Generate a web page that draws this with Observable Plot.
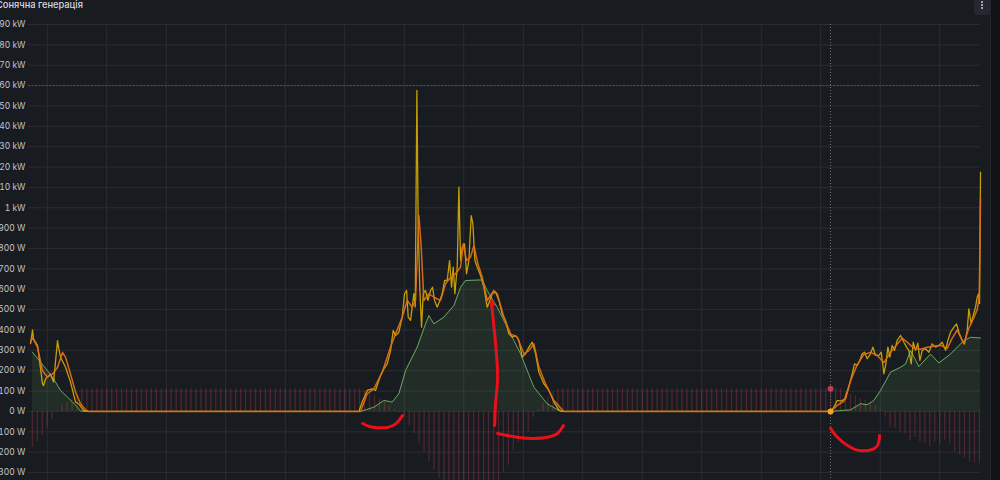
<!DOCTYPE html>
<html><head><meta charset="utf-8">
<script src="https://cdn.jsdelivr.net/npm/d3@7"></script>
<script src="https://cdn.jsdelivr.net/npm/@observablehq/plot@0.6"></script>
<style>
html,body{margin:0;padding:0;background:#181b1f;overflow:hidden}
#wrap{position:relative;width:1000px;height:480px;overflow:hidden;background:#181b1f}
#wrap svg{display:block}
#title{position:absolute;left:-4px;top:-0.5px;font:500 9.3px/9px Inter,sans-serif;color:#d8d9e3;white-space:nowrap}
#strip{position:absolute;left:990px;top:0;width:10px;height:480px;background:#111217;border-left:1px solid #25272d}
#menu{position:absolute;left:974px;top:0;width:16px;height:15px;background:#25282e;border-radius:0 0 2px 2px}
#menu i{position:absolute;left:7px;width:2px;height:2px;background:#c8c9d2;border-radius:1px}
</style>
</head><body>
<div id="wrap">
  <div id="chart"></div>
  <div id="strip"></div>
  <div id="menu"><i style="top:1px"></i><i style="top:4px"></i><i style="top:7px"></i></div>
  <div id="title">Сонячна генерація</div>
</div>
<script>
// Y axis ticks and their labels (W)
const yTicks = [-300,-200,-100,0,100,200,300,400,500,600,700,800,900,1000,1100,1200,1300,1400,1500,1600,1700,1800,1900];
const yTickLabels = ["-300 W","-200 W","-100 W","0 W","100 W","200 W","300 W","400 W","500 W","600 W","700 W","800 W","900 W","1 kW","1.10 kW","1.20 kW","1.30 kW","1.40 kW","1.50 kW","1.60 kW","1.70 kW","1.80 kW","1.90 kW"];
// X grid (hours)
const xTicks = [0,2,4,6,8,10,12,14,16,18,20,22,24,26,28,30];
const threshold = 1600;
const cursorHour = 26.33;

// Raw solar power (yellow), [hour, W]
const yellow = [
  [-0.561,333],[-0.494,400],[-0.461,357],[-0.326,323],[-0.158,135],[-0.124,127],[-0.057,160],[0.111,184],[0.212,144],[0.346,348],[0.380,315],[0.447,266],[0.615,217],[0.783,144],[0.951,46],[1.052,38],[1.220,5],[1.355,0],
  [10.475,0],[10.587,46],[10.755,103],[10.923,111],[11.035,103],[11.203,177],[11.316,209],[11.428,234],[11.540,299],[11.629,398],[11.708,373],[11.820,389],[11.932,463],[12.010,578],[12.078,594],[12.134,463],[12.212,447],[12.268,512],[12.324,578],[12.369,512],[12.425,1576],[12.470,905],[12.526,594],[12.582,414],[12.638,578],[12.716,594],[12.795,545],[12.884,594],[12.951,610],[13.019,545],[13.108,512],[13.198,545],[13.276,578],[13.355,643],[13.444,643],[13.523,741],[13.590,610],[13.646,709],[13.702,578],[13.781,709],[13.837,1101],[13.893,741],[13.949,807],[14.027,823],[14.094,676],[14.173,741],[14.251,962],[14.307,921],[14.374,741],[14.453,709],[14.565,668],[14.677,610],[14.789,512],[14.879,545],[14.957,578],[15.069,586],[15.181,545],[15.293,479],[15.405,447],[15.517,381],[15.629,365],[15.741,373],[15.853,349],[15.966,267],[16.078,283],[16.190,316],[16.302,340],[16.414,283],[16.526,193],[16.694,136],[16.862,103],[17.030,46],[17.198,8],[17.310,0],
  [26.329,0],[26.441,21],[26.553,54],[26.666,51],[26.834,62],[26.946,120],[27.058,185],[27.136,234],[27.226,226],[27.315,250],[27.394,283],[27.472,291],[27.562,259],[27.674,283],[27.752,316],[27.842,275],[27.954,275],[28.033,291],[28.122,185],[28.189,234],[28.257,316],[28.324,267],[28.402,324],[28.481,300],[28.570,349],[28.682,373],[28.794,340],[28.884,316],[28.962,300],[29.041,234],[29.108,340],[29.187,300],[29.265,335],[29.332,250],[29.411,300],[29.523,308],[29.635,291],[29.747,332],[29.859,316],[29.971,324],[30.083,340],[30.195,300],[30.274,349],[30.363,389],[30.475,414],[30.565,430],[30.643,389],[30.755,349],[30.834,332],[30.923,398],[30.979,504],[31.058,430],[31.125,471],[31.203,512],[31.259,561],[31.304,578],[31.338,529],[31.371,1175]
];

// Smoothed power (orange), [hour, W]
const orange = [
  [-0.561,340],[-0.494,364],[-0.326,315],[-0.158,200],[0.010,168],[0.178,184],[0.346,217],[0.514,290],[0.615,266],[0.783,184],[0.951,95],[1.119,38],[1.287,8],[1.388,0],
  [10.531,0],[10.755,87],[10.979,111],[11.260,193],[11.540,316],[11.708,381],[11.932,463],[12.100,545],[12.268,512],[12.380,545],[12.492,962],[12.571,807],[12.660,545],[12.828,578],[12.996,561],[13.220,545],[13.388,627],[13.557,659],[13.725,676],[13.893,709],[13.982,823],[14.094,741],[14.229,758],[14.341,815],[14.475,725],[14.621,659],[14.789,545],[15.013,594],[15.125,578],[15.349,463],[15.573,381],[15.797,365],[16.022,283],[16.190,299],[16.358,332],[16.526,218],[16.750,136],[17.030,54],[17.366,0],
  [26.329,0],[26.553,30],[26.778,50],[27.002,150],[27.226,230],[27.450,280],[27.674,290],[27.898,275],[28.122,240],[28.346,290],[28.570,330],[28.738,360],[28.906,340],[29.131,310],[29.355,305],[29.579,315],[29.803,320],[30.027,325],[30.251,310],[30.419,360],[30.587,400],[30.811,332],[30.979,410],[31.147,460],[31.259,500],[31.326,560],[31.371,1046]
];

// Average profile (green area), [hour, W]
const green = [
  [-0.494,291],[-0.225,242],[0.010,200],[0.212,160],[0.447,103],[0.682,70],[0.850,46],[1.018,21],[1.119,2],[1.220,0],
  [10.531,0],[10.979,21],[11.316,54],[11.596,46],[11.820,87],[12.044,201],[12.436,316],[12.716,430],[12.828,471],[12.996,430],[13.332,463],[13.669,520],[13.893,610],[14.061,643],[14.621,646],[14.789,594],[15.125,512],[15.461,414],[15.910,283],[16.358,119],[16.806,38],[17.254,0],
  [26.329,0],[27.002,8],[27.338,38],[27.562,33],[27.786,54],[28.010,103],[28.346,193],[28.682,217],[28.850,233],[29.018,299],[29.299,221],[29.691,282],[29.971,238],[30.363,282],[30.811,348],[31.035,364],[31.371,361]
];

// Grid exchange bars (red), one every 10 minutes starting at -0.5 h (rows of 10)
const barStart = -0.5, barStepHours = 1/6;
const barValues = [
  -176,-147,-118,-83,-39,5,30,45,60,75,
  112,112,112,112,112,112,112,112,112,112,
  112,112,112,112,112,112,112,112,112,112,
  112,112,112,112,112,112,112,112,112,112,
  112,112,112,112,112,112,112,112,112,112,
  112,112,112,112,112,112,112,112,112,112,
  112,112,112,112,112,112,112,100,88,80,
  62,45,25,10,-5,-30,-70,-110,-160,-200,
  -250,-290,-330,-360,-380,-390,-400,-395,-390,-385,
  -380,-370,-360,-350,-345,-300,-265,-190,-155,-130,
  -100,-30,10,40,70,95,112,112,112,112,
  112,112,112,112,112,112,112,112,112,112,
  112,112,112,112,112,112,112,112,112,112,
  112,112,112,112,112,112,112,112,112,112,
  112,112,112,112,112,112,112,112,112,112,
  112,112,112,112,112,112,112,112,112,112,
  112,112,112,112,95,85,75,65,55,40,
  30,10,-29,-78,-83,-101,-110,-142,-125,-150,
  -158,-174,-150,-158,-140,-160,-200,-215,-230,-250,
  -255,-255
];
const bars = barValues.map((v, i) => ({h: barStart + i * barStepHours, v}));

// Hover markers at cursor
const hoverDots = [{h: 26.33, v: 112, c: "#E8475F", o: 0.75, r: 4}, {h: 26.33, v: 0, c: "#F5A21B", o: 1, r: 4}];

// Hand-drawn red annotation strokes, [hour, W]
const annot1 = [[10.60,-59],[10.85,-75],[11.10,-80],[11.45,-78],[11.70,-62],[11.94,-20]];
const annot2 = [[15.00,525],[14.93,545],[14.97,481],[15.07,334],[15.14,167],[15.07,39],[15.04,-69]];
const annot3 = [[15.14,-108],[15.60,-122],[16.14,-132],[16.81,-127],[17.15,-108],[17.35,-69]];
const annot4 = [[26.33,-83],[26.56,-127],[26.90,-167],[27.27,-191],[27.74,-186],[27.91,-167],[27.98,-118]];

const labelOf = new Map(yTicks.map((t, i) => [t, yTickLabels[i]]));
const pts = arr => arr.map(([h, v]) => ({h, v}));

const chart = Plot.plot({
  width: 1000, height: 480,
  marginLeft: 28, marginRight: 20, marginTop: 24, marginBottom: 0,
  style: {background: "#181b1f", color: "#c3c4ce", fontFamily: "Inter, sans-serif", fontSize: "8.5px", overflow: "hidden"},
  x: {domain: [-0.63, 31.37], axis: null},
  y: {domain: [-339, 1900], axis: null},
  marks: [
    Plot.gridY(yTicks, {stroke: "#2a2d34", strokeOpacity: 1}),
    Plot.gridX(xTicks, {stroke: "#2a2d34", strokeOpacity: 1}),
    Plot.ruleY([threshold], {stroke: "#50535c", strokeDasharray: "2,1.5"}),
    Plot.ruleX(bars, {x: "h", y1: 0, y2: "v", stroke: "#F2495C", strokeOpacity: 0.25, strokeWidth: 1.3, clip: true}),
    Plot.areaY(pts(green), {x: "h", y: "v", fill: "#73BF69", fillOpacity: 0.11}),
    Plot.lineY(pts(green), {x: "h", y: "v", stroke: "#73BF69", strokeOpacity: 0.85, strokeWidth: 1}),
    Plot.lineY(pts(yellow), {x: "h", y: "v", stroke: "#D8AE00", strokeOpacity: 0.9, strokeWidth: 1.3}),
    Plot.lineY(pts(orange), {x: "h", y: "v", stroke: "#DD6E1E", strokeOpacity: 0.95, strokeWidth: 1.5}),
    Plot.ruleX([cursorHour], {stroke: "#6c6f78", strokeDasharray: "1,2", strokeWidth: 1}),
    Plot.dot(hoverDots, {x: "h", y: "v", r: "r", fill: "c", fillOpacity: "o", stroke: null}),
    ...[annot1, annot2, annot3, annot4].map(a => Plot.line(pts(a), {x: "h", y: "v", stroke: "#E8101A", strokeWidth: 3, strokeLinecap: "round", curve: "catmull-rom"})),
    Plot.axisY(yTicks, {tickFormat: d => labelOf.get(d), tickSize: 0, tickPadding: 3, label: null, fill: "#c3c4ce"})
  ]
});
document.getElementById("chart").append(chart);
</script>
</body></html>
